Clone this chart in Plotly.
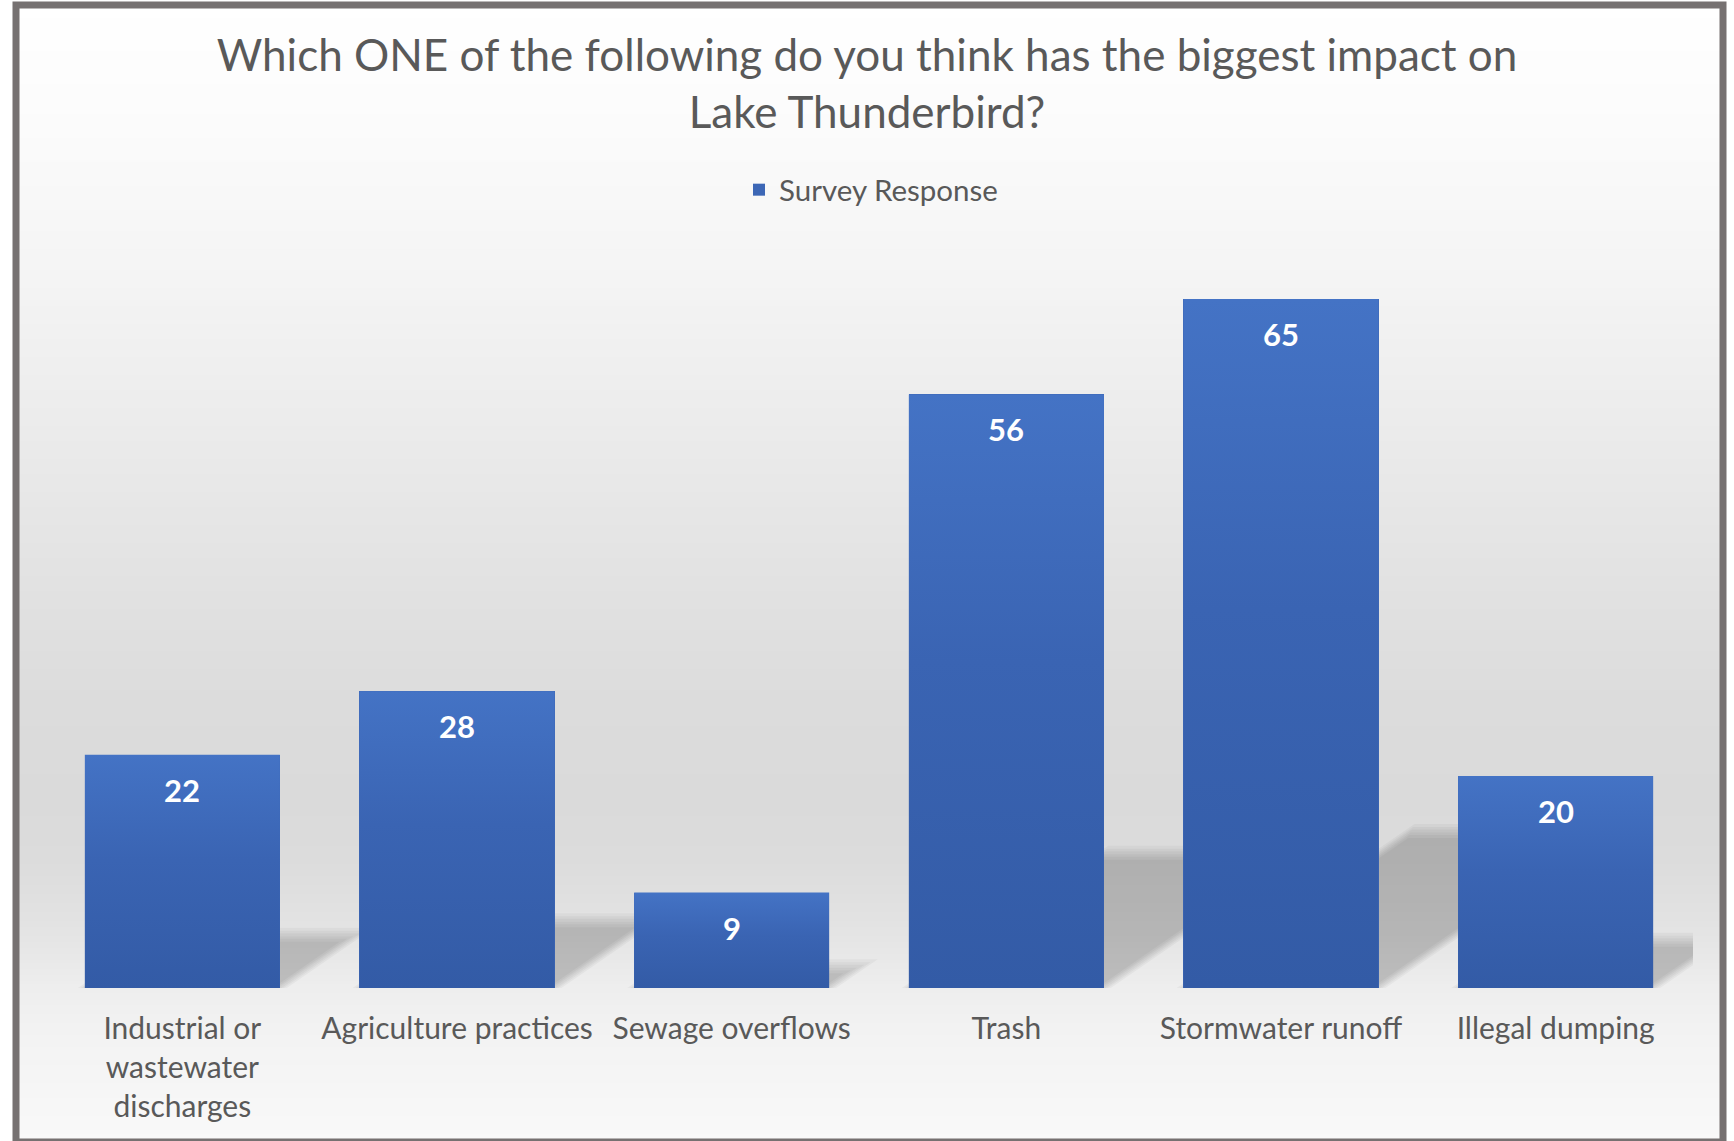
import plotly.graph_objects as go

# ---- data -------------------------------------------------------------
categories = [
    "Industrial or<br>wastewater<br>discharges",
    "Agriculture practices",
    "Sewage overflows",
    "Trash",
    "Stormwater runoff",
    "Illegal dumping",
]
responses = [22, 28, 9, 56, 65, 20]
series_name = "Survey Response"
title_lines = [
    "Which ONE of the following do you think has the biggest impact on",
    "Lake Thunderbird?",
]

# ---- layout constants -------------------------------------------------
W, H = 1734, 1141
FONT = "Lato, 'Open Sans', sans-serif"
TEXT_GREY = "#595959"
FRAME_GREY = "#767171"
BAR_STOPS = [[0.0, "#335BA6"], [0.55, "#3A64B3"], [1.0, "#4473C5"]]
BAR_MID = "#3D67B6"
BAR_WIDTH = 0.71
Y_MAX = 70

X_DOMAIN = (45 / W, 1693 / W)
Y_DOMAIN = ((H - 988) / H, (H - 246) / H)
PX_PER_X = (X_DOMAIN[1] - X_DOMAIN[0]) * W / len(categories)
PX_PER_Y = (Y_DOMAIN[1] - Y_DOMAIN[0]) * H / Y_MAX

# soft cast shadow behind each bar
SHADOW_RISE = 0.228      # shadow height as a share of bar height
SHADOW_SLANT = 1.45      # horizontal drift per unit of shadow height
SHADOW_LAYERS = [-7, -4, -1.5, 1.5, 4, 7]   # px insets that fake a blur
SHADOW_ALPHA = 0.034

# background: vertical grey ramp (pixel row -> grey level)
BG_STOPS = [(0, 255), (100, 252), (200, 248), (280, 244), (400, 237),
            (500, 231), (600, 225), (700, 220), (800, 218), (860, 220),
            (900, 224), (940, 229), (988, 238), (1040, 243), (1141, 249)]


def grey_at(row):
    for (r0, g0), (r1, g1) in zip(BG_STOPS, BG_STOPS[1:]):
        if r0 <= row <= r1:
            t = (row - r0) / (r1 - r0)
            return round(g0 + t * (g1 - g0))
    return BG_STOPS[-1][1]


shapes = []

# gradient backdrop, drawn as thin horizontal bands
BAND = 3
for row in range(0, H, BAND):
    g = grey_at(row + BAND / 2)
    shapes.append(dict(
        type="rect", xref="paper", yref="paper", layer="below",
        x0=16 / W, x1=1723 / W, y0=1 - (row + BAND) / H, y1=1 - row / H,
        fillcolor=f"rgb({g},{g},{g})", line=dict(width=0),
    ))


def shadow_path(i, v, d):
    h_px = SHADOW_RISE * v * PX_PER_Y - d
    xl = i - BAR_WIDTH / 2 + d / PX_PER_X
    xr = i + BAR_WIDTH / 2 - d / PX_PER_X
    drift = SHADOW_SLANT * h_px / PX_PER_X
    top = h_px / PX_PER_Y
    return (f"M{xl},0 L{xr},0 L{xr + drift},{top} "
            f"L{xl + drift},{top} Z")


for i, v in enumerate(responses):
    for d in SHADOW_LAYERS:
        shapes.append(dict(
            type="path", xref="x", yref="y", layer="below",
            path=shadow_path(i, v, d),
            fillcolor=f"rgba(0,0,0,{SHADOW_ALPHA})", line=dict(width=0),
        ))

# chart frame
shapes.append(dict(
    type="rect", xref="paper", yref="paper", layer="above",
    x0=16 / W, x1=1723 / W, y0=-1 / H, y1=1 - 5 / H,
    line=dict(color=FRAME_GREY, width=7), fillcolor="rgba(0,0,0,0)",
))

fig = go.Figure()

x_idx = list(range(len(categories)))
fig.add_trace(go.Bar(
    x=x_idx, y=responses, width=BAR_WIDTH, name=series_name,
    marker=dict(color=BAR_MID, line=dict(width=0)),
    hoverinfo="skip",
))

# vertical colour ramp over each bar
for i, v in enumerate(responses):
    xl, xr = i - BAR_WIDTH / 2, i + BAR_WIDTH / 2
    fig.add_trace(go.Scatter(
        x=[xl, xr, xr, xl, xl], y=[0, 0, v, v, 0],
        mode="none", fill="toself",
        fillgradient=dict(type="vertical", colorscale=BAR_STOPS),
        showlegend=False, hoverinfo="skip",
    ))

annotations = [
    dict(x=i, y=v, xref="x", yref="y", text=f"<b>{v}</b>", showarrow=False,
         yanchor="middle", yshift=-35,
         font=dict(family=FONT, size=31, color="white"))
    for i, v in enumerate(responses)
]

fig.update_layout(
    width=W, height=H,
    margin=dict(l=0, r=0, t=0, b=0),
    paper_bgcolor="white", plot_bgcolor="rgba(0,0,0,0)",
    title=dict(
        text="<br>".join(title_lines),
        x=0.5, xanchor="center", y=1 - 71 / H, yanchor="middle",
        font=dict(family=FONT, size=44, color=TEXT_GREY),
    ),
    legend=dict(
        orientation="h", x=739 / W, xanchor="left",
        y=1 - 190 / H, yanchor="middle",
        font=dict(family=FONT, size=29.5, color=TEXT_GREY),
        bgcolor="rgba(0,0,0,0)",
    ),
    xaxis=dict(
        domain=list(X_DOMAIN), range=[-0.5, len(categories) - 0.5],
        tickvals=x_idx, ticktext=categories, ticks="",
        ticklabelstandoff=20,
        showgrid=False, zeroline=False, showline=False,
        tickfont=dict(family=FONT, size=30, color=TEXT_GREY),
    ),
    yaxis=dict(
        domain=list(Y_DOMAIN), range=[0, Y_MAX],
        showgrid=False, zeroline=False, showline=False,
        showticklabels=False, ticks="",
    ),
    shapes=shapes,
    annotations=annotations,
    bargap=0,
)

fig.write_html("out.html")
